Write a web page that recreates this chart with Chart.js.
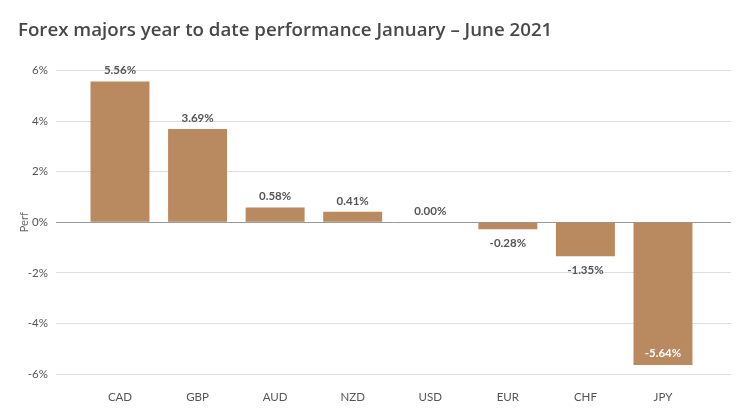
<!DOCTYPE html>
<html><head><meta charset="utf-8">
<script src="https://cdn.jsdelivr.net/npm/chart.js@4/dist/chart.umd.min.js"></script>
<style>html,body{margin:0;padding:0;background:#fff}#wrap{width:750px;height:420px}</style>
</head><body><div id="wrap"><canvas id="c" width="750" height="420"></canvas></div>
<script>
const categories = ["CAD","GBP","AUD","NZD","USD","EUR","CHF","JPY"];
const perf = [5.56, 3.69, 0.58, 0.41, 0.00, -0.28, -1.35, -5.64];
const yTicks = [-6,-4,-2,0,2,4,6];

const FONT = "Lato, 'DejaVu Sans', sans-serif";
const TFONT = "'Open Sans', Lato, sans-serif";
const labelPlugin = {
  id: 'valueLabels',
  afterDatasetsDraw(chart) {
    const ctx = chart.ctx, area = chart.chartArea;
    const meta = chart.getDatasetMeta(0);
    ctx.save();
    ctx.font = "bold 11.5px " + FONT;
    ctx.textAlign = 'center';
    ctx.textBaseline = 'middle';
    meta.data.forEach((bar, i) => {
      const v = perf[i];
      const txt = v.toFixed(2) + '%';
      let y, color = '#555';
      if (v >= 0) { y = bar.y - 11; }
      else {
        y = bar.y + 14;
        if (y + 6 > area.bottom) { y = bar.y - 12; color = '#fff'; }
      }
      ctx.fillStyle = color;
      ctx.fillText(txt, bar.x, y);
    });
    ctx.restore();
  }
};

new Chart(document.getElementById('c'), {
  type: 'bar',
  data: {
    datasets: [{
      data: perf.map((v, i) => ({x: i, y: v})),
      backgroundColor: '#b98960',
      categoryPercentage: 1,
      barPercentage: 0.76
    }]
  },
  options: {
    responsive: false,
    animation: false,
    devicePixelRatio: 1,
    layout: { padding: { left: 18, right: 19, top: 0, bottom: 0 } },
    plugins: {
      legend: { display: false },
      tooltip: { enabled: false },
      title: {
        display: true, text: 'Forex majors year to date performance January – June 2021',
        align: 'start', color: '#484848',
        font: { family: TFONT, size: 18.7, weight: '600' },
        padding: { top: 19, bottom: 29 }
      }
    },
    scales: {
      x: {
        type: 'linear', min: -0.825, max: 7.877, offset: false,
        afterBuildTicks(s) { s.ticks = categories.map((c, i) => ({value: i})); },
        ticks: { autoSkip: false, callback: (v) => categories[v] ?? '', color: '#555',
          font: { family: FONT, size: 11.5 }, padding: 8 },
        grid: { display: false }, border: { display: false },
        afterFit(s) { s.height = 46; }
      },
      y: {
        min: -6, max: 6,
        afterBuildTicks(s) { s.ticks = yTicks.map(v => ({value: v})); },
        ticks: { callback: v => v + '%', color: '#555', font: { family: FONT, size: 11.5 }, padding: 8 },
        grid: { color: c => c.tick && c.tick.value === 0 ? '#999' : '#ddd', drawTicks: false, lineWidth: 1 },
        border: { display: false },
        title: { display: true, text: 'Perf', color: '#666', font: { family: FONT, size: 11 }, padding: 0 },
        afterFit(s) { s.width = 38; }
      }
    }
  },
  plugins: [labelPlugin]
});
</script></body></html>
